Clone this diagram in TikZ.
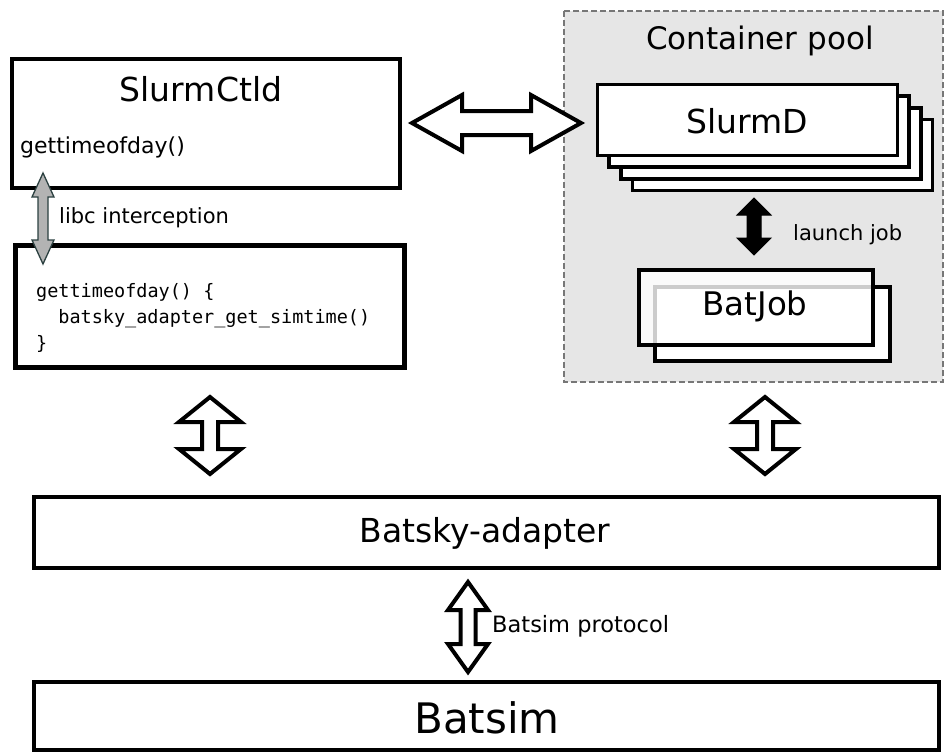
\documentclass[tikz,border=0pt]{standalone}
\usepackage{fontspec}
\setmainfont{DejaVu Sans}
\setmonofont{DejaVu Sans Mono}
\definecolor{poolfill}{HTML}{E6E6E6}
\definecolor{pooldraw}{HTML}{777777}
\definecolor{libcfill}{HTML}{B3B3B3}
\definecolor{libcdraw}{HTML}{2B4040}
\newcommand{\fsz}[1]{\fontsize{#1}{#1}\selectfont}
% vertical double arrow: style, cx, ytop, ybot, shaft half, head half, head length
\newcommand{\vdarr}[7]{%
  \draw[#1] (#2,#3) -- ({#2+#6},{#3+#7}) -- ({#2+#5},{#3+#7}) -- ({#2+#5},{#4-#7})
    -- ({#2+#6},{#4-#7}) -- (#2,#4) -- ({#2-#6},{#4-#7}) -- ({#2-#5},{#4-#7})
    -- ({#2-#5},{#3+#7}) -- ({#2-#6},{#3+#7}) -- cycle;}
% horizontal double arrow: style, cy, xleft, xright, shaft half, head half, head length
\newcommand{\hdarr}[7]{%
  \draw[#1] (#3,#2) -- ({#3+#7},{#2-#6}) -- ({#3+#7},{#2-#5}) -- ({#4-#7},{#2-#5})
    -- ({#4-#7},{#2-#6}) -- (#4,#2) -- ({#4-#7},{#2+#6}) -- ({#4-#7},{#2+#5})
    -- ({#3+#7},{#2+#5}) -- ({#3+#7},{#2+#6}) -- cycle;}
\begin{document}
\begin{tikzpicture}[x=1pt,y=-1pt,
  txt/.style={inner sep=0pt, anchor=base},
  txtw/.style={inner sep=0pt, anchor=base west},
  box/.style={draw=black, fill=white, line width=4pt},
  whitearr/.style={draw=black, fill=white, line width=4pt, line join=miter},
  blackarr/.style={draw=black, fill=black, line width=1pt, line join=miter},
  grayarr/.style={draw=libcdraw, fill=libcfill, line width=1.3pt, line join=miter},
  pool/.style={draw=pooldraw, fill=poolfill, line width=1.5pt, dash pattern=on 6pt off 3pt}]
\useasboundingbox (0,0) rectangle (945,753);

% container pool
\draw[pool] (564,11) rectangle (943,382);
\node[txt] (pooltxt) at (760,49) {\fsz{31}Container pool};

% SlurmCtld
\draw[box] (12,59) rectangle (400,188);
\node[txt] (ctld) at (201,101) {\fsz{33}SlurmCtld};
\node[txtw] (gtod) at (20,153) {\fsz{22}gettimeofday()};

% code box
\draw[box, line width=5pt] (15.5,245.5) rectangle (404.5,367.5);
\node[txtw] (code1) at (36,297) {\fsz{18.5}\ttfamily gettimeofday() \{};
\node[txtw] (code2) at (58.2,323) {\fsz{18.5}\ttfamily batsky\_adapter\_get\_simtime()};
\node[txtw] (code3) at (36,349) {\fsz{18.5}\ttfamily \}};

% libc interception arrow
\vdarr{grayarr}{43}{173}{264}{5}{11}{24}
\node[txtw] (libc) at (59,223) {\fsz{21}libc interception};

% SlurmD stack
\draw[box, line width=3.5pt] (632.5,119.5) rectangle (932.5,190.5);
\draw[box, line width=3.5pt] (620.8,107.8) rectangle (920.8,178.8);
\draw[box, line width=3.5pt] (609.2,96.2) rectangle (909.2,167.2);
\draw[box, line width=3.5pt] (597.5,84.5) rectangle (897.5,155.5);
\node[txt] (slurmd) at (747,133) {\fsz{33}SlurmD};

% launch job arrow
\vdarr{blackarr}{754}{198}{255}{7}{17}{17}
\node[txtw] (launch) at (793,240) {\fsz{21}launch job};

% BatJob stack
\draw[box] (655,287) rectangle (890,361);
\draw[box, fill opacity=0.8] (639,270) rectangle (873,345);
\node[txt] (batjob) at (755,315) {\fsz{32.5}BatJob};

% big horizontal arrow
\hdarr{whitearr}{123}{412}{581}{12}{28}{50}

% vertical arrows to adapter
\vdarr{whitearr}{210}{397}{474}{8}{31}{25}
\vdarr{whitearr}{765}{397}{474}{8}{31}{25}

% Batsky-adapter
\draw[box, line width=4.5pt] (34,497) rectangle (939,568);
\node[txt] (adapter) at (485,542) {\fsz{33}Batsky-adapter};

% Batsim protocol arrow
\vdarr{whitearr}{468}{582}{672}{7.5}{20}{28}
\node[txtw] (proto) at (492,632) {\fsz{22.5}Batsim protocol};

% Batsim
\draw[box, line width=4.5pt] (34,682) rectangle (939,750);
\node[txt] (batsim) at (487,733) {\fsz{42}Batsim};
\end{tikzpicture}
\end{document}
